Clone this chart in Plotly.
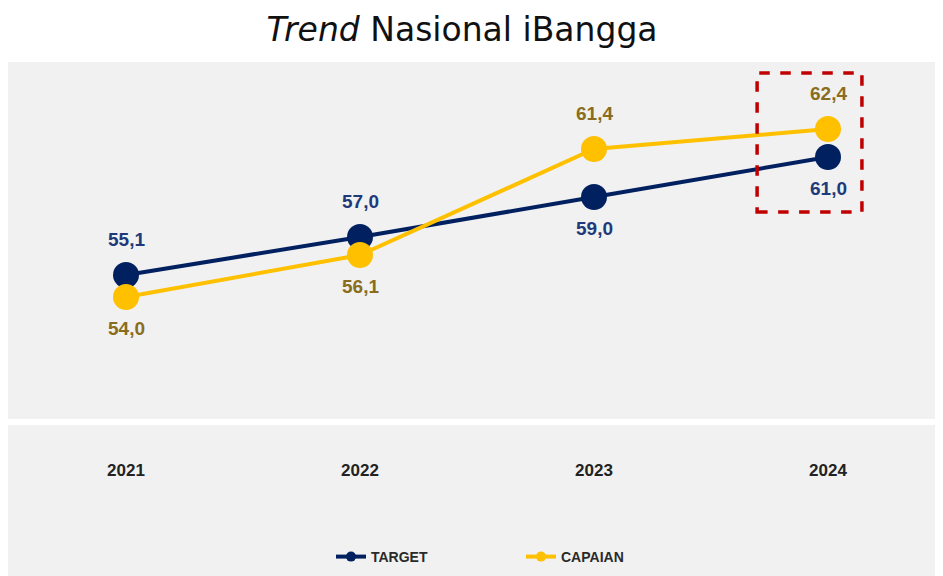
import plotly.graph_objects as go

years = ["2021", "2022", "2023", "2024"]
target = [55.1, 57.0, 59.0, 61.0]
capaian = [54.0, 56.1, 61.4, 62.4]
target_above = [True, True, False, False]
capaian_above = [False, False, True, True]

def fmt(v):
    return f"{v:.1f}".replace(".", ",")

xs = list(range(len(years)))
NAVY = "#002060"
GOLD = "#FFC000"
BG = "#f1f1f1"
LBL_FONT = "Liberation Sans, Arial"

fig = go.Figure()
for name, vals, color in [("TARGET", target, NAVY), ("CAPAIAN", capaian, GOLD)]:
    fig.add_trace(go.Scatter(
        x=xs, y=vals, name=name, mode="lines+markers", showlegend=False,
        line=dict(color=color, width=4), marker=dict(color=color, size=26),
    ))
# legend entries with small markers
for name, color in [("TARGET", NAVY), ("CAPAIAN", GOLD)]:
    fig.add_trace(go.Scatter(
        x=[None], y=[None], name=name, mode="lines+markers",
        line=dict(color=color, width=4), marker=dict(color=color, size=10),
    ))

annotations = []
for vals, above, tcolor in [(target, target_above, "#1f3a7a"), (capaian, capaian_above, "#8a6d1c")]:
    for xi, v, ab in zip(xs, vals, above):
        annotations.append(dict(
            x=xi, y=v, xref="x", yref="y", text=fmt(v), showarrow=False,
            yshift=36 if ab else -31, yanchor="middle",
            font=dict(family=LBL_FONT, size=19, color=tcolor, weight="bold"),
        ))

OFF = 8
W, H = 943 - OFF, 576 - OFF
TOP = 62 - OFF
BOT = 419 - OFF
H_PLOT = BOT - TOP

fig.update_layout(
    width=W, height=H,
    margin=dict(l=0, r=0, t=TOP, b=H - BOT),
    paper_bgcolor="white", plot_bgcolor=BG,
    title=dict(text="<i>Trend</i> Nasional iBangga", x=(462 - OFF) / W, xanchor="center",
               y=1 - (29 - OFF) / H, yanchor="middle", yref="container",
               font=dict(family="DejaVu Sans", size=33, color="#111111")),
    xaxis=dict(tickvals=xs, ticktext=years, range=[(OFF - 126) / 234, (943 - 126) / 234],
               showgrid=False, zeroline=False, showline=False, ticks="",
               ticklabelstandoff=39,
               tickfont=dict(family=LBL_FONT, size=17, color="#222222", weight="bold")),
    yaxis=dict(range=[47.9, 65.75], showgrid=False, zeroline=False,
               showticklabels=False, showline=False),
    showlegend=True,
    legend=dict(orientation="h", x=(329 - 6) / W, xanchor="left",
                y=-(557 - 419) / H_PLOT, yanchor="middle", bgcolor="rgba(0,0,0,0)",
                entrywidth=145, entrywidthmode="pixels", itemwidth=30,
                font=dict(family=LBL_FONT, size=14, color="#2a2a2a", weight="bold")),
    annotations=annotations,
    shapes=[
        dict(type="rect", xref="paper", yref="paper", x0=0, x1=1,
             y0=-(425 - 419) / H_PLOT, y1=-(576 - 419) / H_PLOT,
             fillcolor=BG, line=dict(width=0), layer="below"),
        dict(type="rect", xref="x", yref="y", x0=2.697, x1=3.145, y0=58.25, y1=65.2,
             line=dict(color="#c00000", width=3.5, dash="dash"), fillcolor="rgba(0,0,0,0)"),
    ],
)

fig.write_html("out.html")
